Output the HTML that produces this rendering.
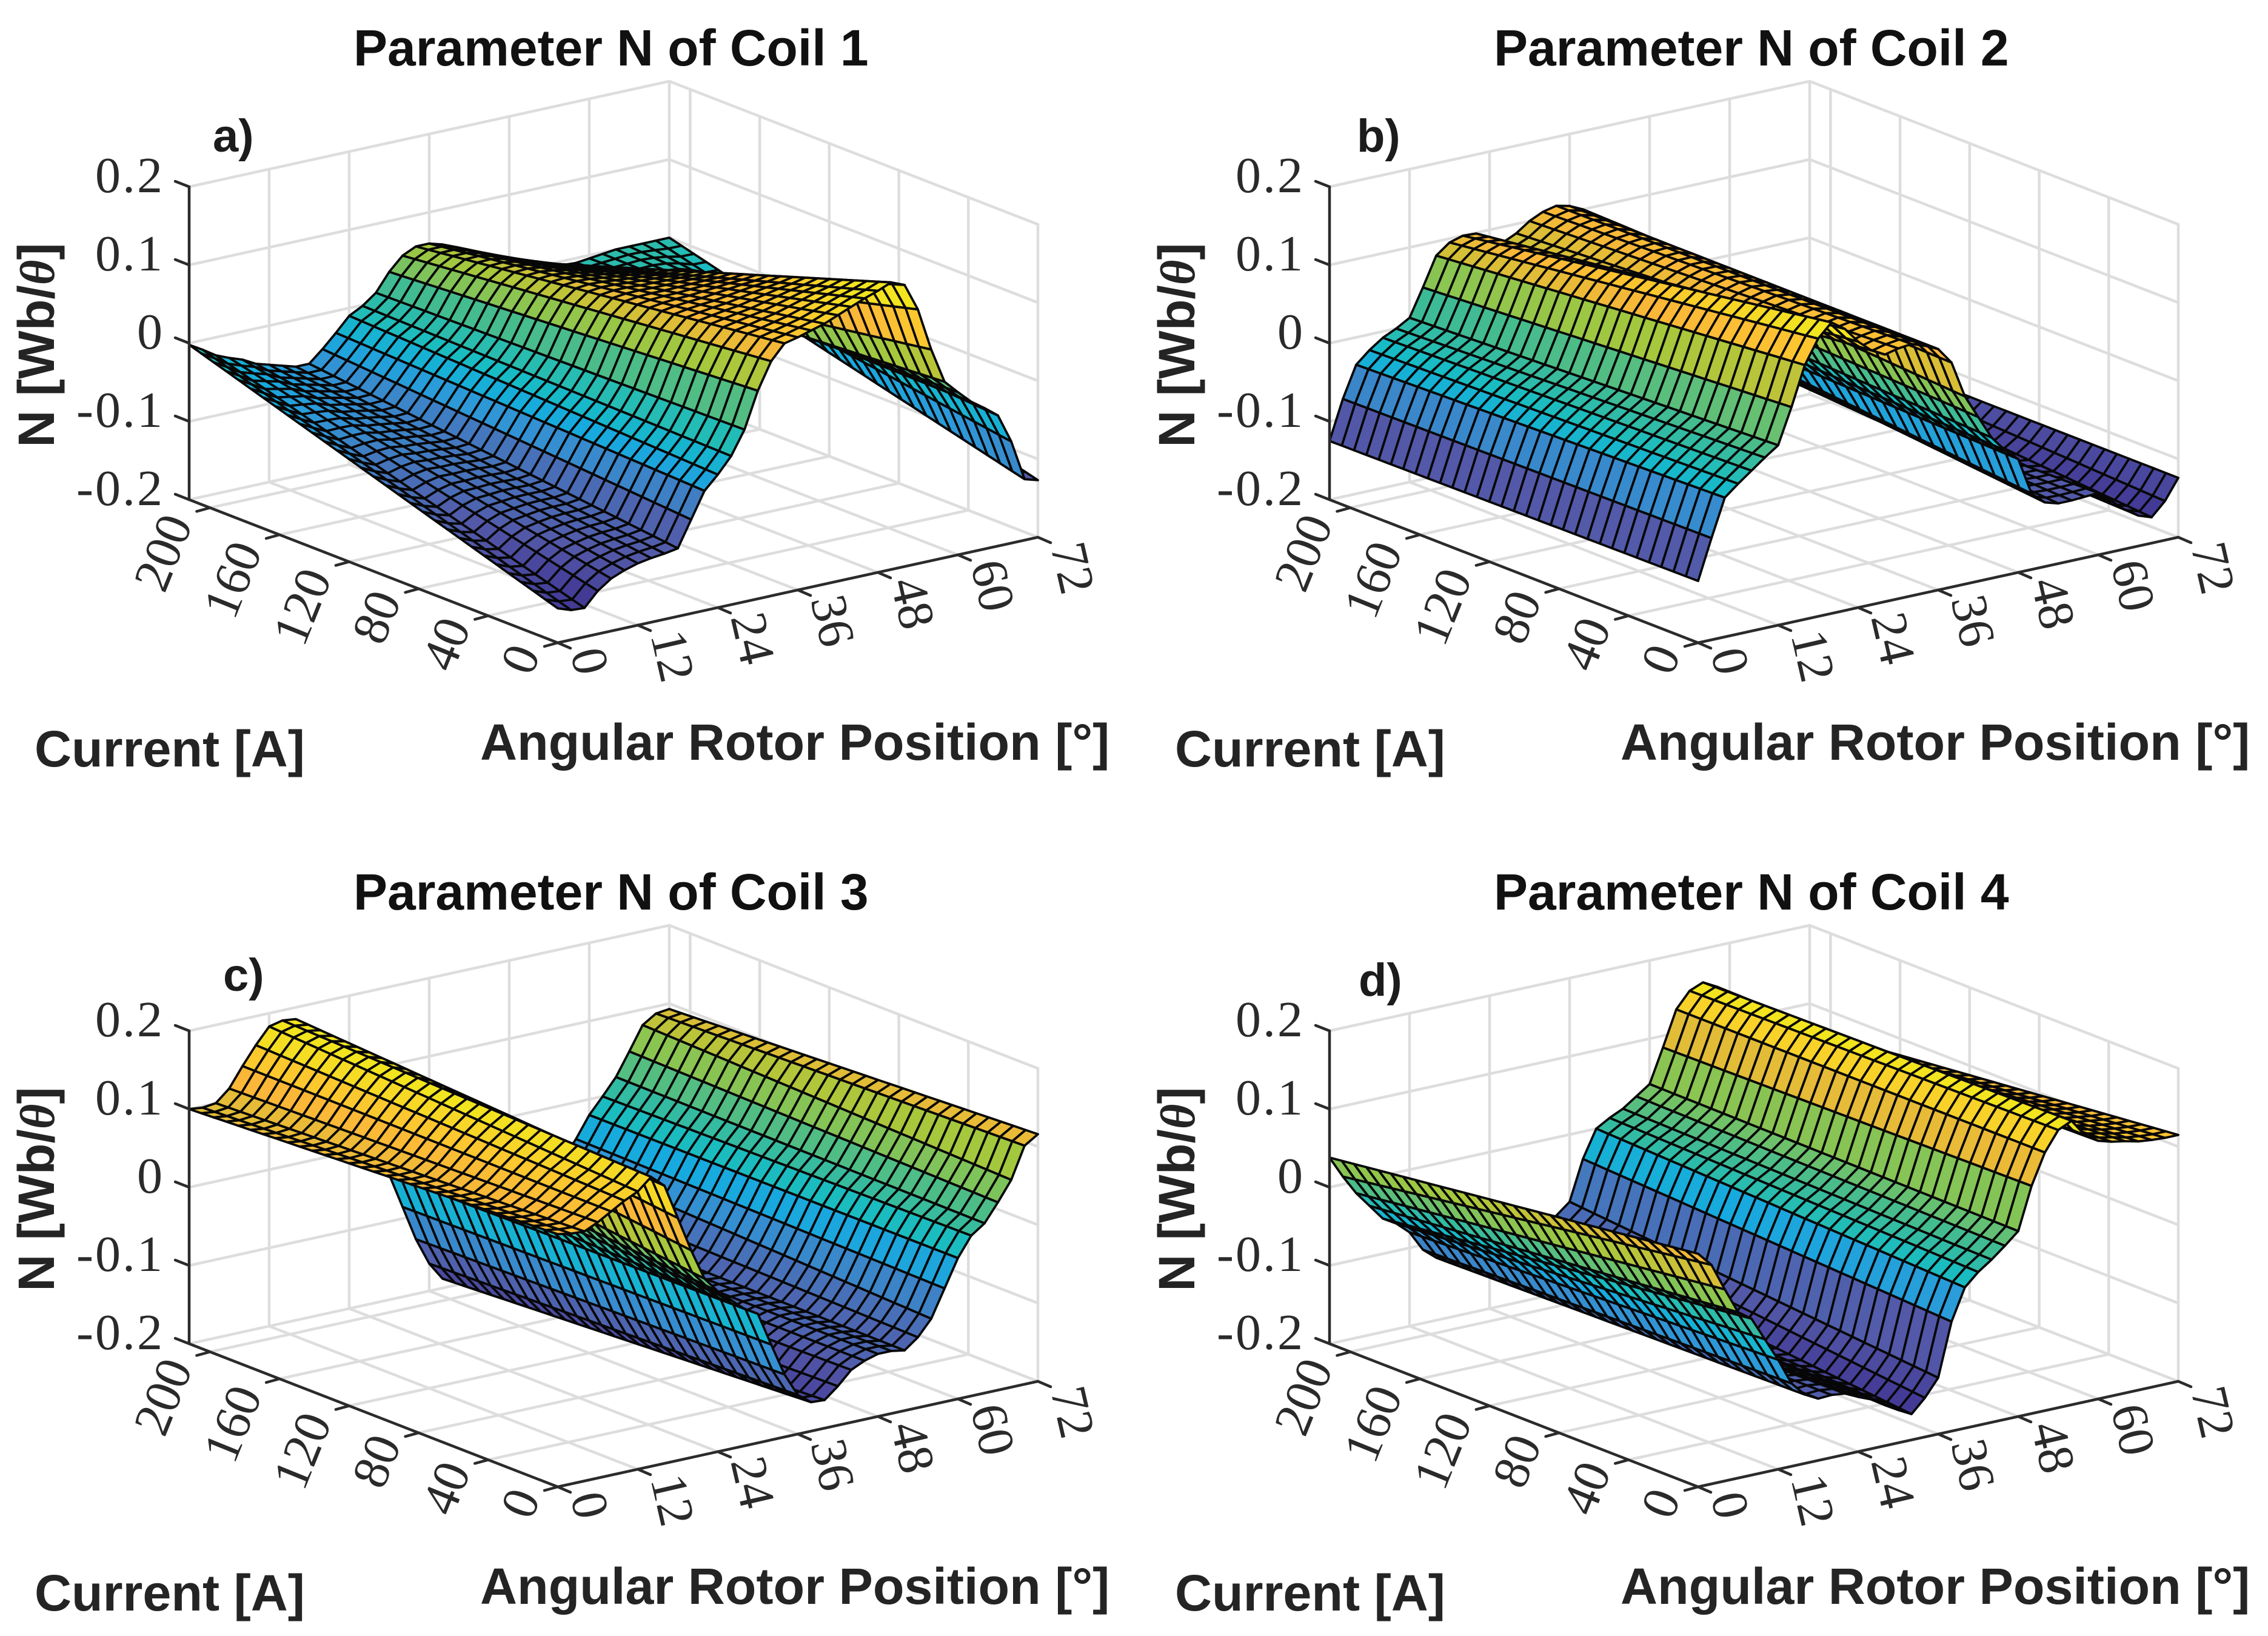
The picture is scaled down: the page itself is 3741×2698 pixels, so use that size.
<!DOCTYPE html>
<html lang="en">
<head>
<meta charset="utf-8">
<title>Parameter N of Coils 1 to 4</title>
<style>
html,body{margin:0;padding:0;background:#fff;}
svg{display:block;}
.title{font:bold 84px "Liberation Sans",sans-serif;fill:#111;}
.axis-label{font:bold 84.5px "Liberation Sans",sans-serif;fill:#242424;}
.panel-tag{font:bold 76px "Liberation Sans",sans-serif;fill:#1c1c1c;}
.tick{font:84px "Liberation Serif",serif;fill:#2a2a2a;}
.z-tick-text{letter-spacing:3px;}
.theta{font:italic bold 80px "Liberation Serif",serif;}
</style>
</head>
<body>
<svg id="figure" xmlns="http://www.w3.org/2000/svg" width="3741" height="2698" viewBox="0 0 3741 2698">
  <rect width="3741" height="2698" fill="#fff"/>

  <g id="panel-0" transform="translate(0,0)">
    <g class="plot"></g>
    <text class="title" x="583" y="108">Parameter N of Coil 1</text>
    <text class="panel-tag" x="351" y="250">a)</text>
    <text class="axis-label" transform="translate(89,569) rotate(-90)" text-anchor="middle">N [Wb/<tspan class="theta">θ</tspan>]</text>
    <text class="axis-label" x="57" y="1264">Current [A]</text>
    <text class="axis-label" x="792" y="1253">Angular Rotor Position [°]</text>
  </g>

  <g id="panel-1" transform="translate(1881,0)">
    <g class="plot"></g>
    <text class="title" x="583" y="108">Parameter N of Coil 2</text>
    <text class="panel-tag" x="357" y="250">b)</text>
    <text class="axis-label" transform="translate(89,569) rotate(-90)" text-anchor="middle">N [Wb/<tspan class="theta">θ</tspan>]</text>
    <text class="axis-label" x="57" y="1264">Current [A]</text>
    <text class="axis-label" x="792" y="1253">Angular Rotor Position [°]</text>
  </g>

  <g id="panel-2" transform="translate(0,1392)">
    <g class="plot"></g>
    <text class="title" x="583" y="108">Parameter N of Coil 3</text>
    <text class="panel-tag" x="368" y="242">c)</text>
    <text class="axis-label" transform="translate(89,569) rotate(-90)" text-anchor="middle">N [Wb/<tspan class="theta">θ</tspan>]</text>
    <text class="axis-label" x="57" y="1264">Current [A]</text>
    <text class="axis-label" x="792" y="1253">Angular Rotor Position [°]</text>
  </g>

  <g id="panel-3" transform="translate(1881,1392)">
    <g class="plot"></g>
    <text class="title" x="583" y="108">Parameter N of Coil 4</text>
    <text class="panel-tag" x="360" y="250">d)</text>
    <text class="axis-label" transform="translate(89,569) rotate(-90)" text-anchor="middle">N [Wb/<tspan class="theta">θ</tspan>]</text>
    <text class="axis-label" x="57" y="1264">Current [A]</text>
    <text class="axis-label" x="792" y="1253">Angular Rotor Position [°]</text>
  </g>
</svg>

<script>
// Tick labels and axis categories
const angleTicks = [0, 12, 24, 36, 48, 60, 72];
const currentTicks = [0, 40, 80, 120, 160, 200];
const zTicks = [-0.2, -0.1, 0, 0.1, 0.2];
const zTickLabels = ["-0.2", "-0.1", "0", "0.1", "0.2"];

// Sample positions along the angular axis (degrees)
const angleSamples = [0, 2, 4, 6, 8, 10, 12, 14, 16, 18, 20, 22, 24, 26, 28, 30, 32, 34, 36, 38, 40, 42, 44, 46, 48, 50, 52, 54, 56, 58, 60, 62, 64, 66, 68, 70, 72];
// Current at which each profile row was read (A).
// Only these two rows are read from the picture; mesh cells between them are
// drawn by linear interpolation in drawSurface.
const profileCurrents = [0, 212];

// Coil 1: N values along the angle axis
const coil1AtZeroCurrent = [-0.156, -0.162, -0.163, -0.145, -0.133, -0.126, -0.121, -0.118, -0.116, -0.113, -0.08, -0.047, -0.03, -0.01, 0.02, 0.066, 0.1, 0.119, 0.123, 0.128, 0.133, 0.14, 0.147, 0.154, 0.16, 0.167, 0.16, 0.125, 0.07, 0.025, 0.008, -0.008, -0.02, -0.033, -0.07, -0.122, -0.127];
const coil1AtMaxCurrent = [-0.002, -0.012, -0.023, -0.03, -0.036, -0.045, -0.05, -0.055, -0.06, -0.06, -0.045, -0.028, -0.01, -0.001, 0.012, 0.035, 0.052, 0.06, 0.06, 0.055, 0.048, 0.04, 0.032, 0.024, 0.016, 0.01, 0.005, 0, -0.005, -0.006, -0.004, -0.002, 0, 0, 0, 0, 0];

// Coil 2
const coil2AtZeroCurrent = [-0.121, -0.07, -0.022, -0.008, 0.005, 0.018, 0.03, 0.075, 0.125, 0.155, 0.172, 0.16, 0.14, 0.125, 0.116, 0.12, 0.122, 0.116, 0.108, 0.087, 0.04, 0.01, -0.02, -0.04, -0.055, -0.103, -0.118, -0.123, -0.123, -0.122, -0.121, -0.135, -0.15, -0.161, -0.167, -0.15, -0.124];
const coil2AtMaxCurrent = [-0.125, -0.075, -0.035, -0.02, -0.008, 0, 0.01, 0.045, 0.082, 0.095, 0.1, 0.099, 0.09, 0.08, 0.088, 0.1, 0.108, 0.112, 0.108, 0.1, 0.07, 0.03, 0, -0.02, -0.04, -0.055, -0.07, -0.09, -0.105, -0.12, -0.128, -0.132, -0.135, -0.135, -0.13, -0.127, -0.124];

// Coil 3
const coil3AtZeroCurrent = [0.123, 0.12, 0.119, 0.127, 0.137, 0.147, 0.155, 0.17, 0.155, 0.11, 0.065, 0.025, 0.005, -0.01, -0.025, -0.035, -0.078, -0.12, -0.15, -0.163, -0.164, -0.15, -0.133, -0.125, -0.12, -0.12, -0.123, -0.11, -0.09, -0.055, -0.02, 0.005, 0.017, 0.04, 0.065, 0.105, 0.116];
const coil3AtMaxCurrent = [0.1, 0.098, 0.1, 0.115, 0.14, 0.163, 0.183, 0.187, 0.185, 0.16, 0.12, 0.08, 0.05, 0.02, -0.01, -0.04, -0.085, -0.13, -0.165, -0.188, -0.185, -0.16, -0.14, -0.125, -0.12, -0.12, -0.12, -0.1, -0.07, -0.047, -0.02, 0, 0.021, 0.05, 0.08, 0.091, 0.093];

// Coil 4
const coil4AtZeroCurrent = [0.098, 0.08, 0.045, 0.012, 0, -0.03, -0.06, -0.094, -0.112, -0.121, -0.12, -0.122, -0.13, -0.137, -0.148, -0.158, -0.167, -0.15, -0.128, -0.06, -0.02, -0.004, 0.008, 0.022, 0.037, 0.091, 0.13, 0.155, 0.163, 0.141, 0.13, 0.125, 0.122, 0.118, 0.116, 0.115, 0.115];
const coil4AtMaxCurrent = [0.038, 0.01, -0.015, -0.035, -0.055, -0.065, -0.08, -0.106, -0.12, -0.12, -0.12, -0.125, -0.13, -0.135, -0.135, -0.13, -0.12, -0.1, -0.086, -0.035, 0, 0.01, 0.018, 0.03, 0.042, 0.085, 0.13, 0.15, 0.157, 0.148, 0.12, 0.1, 0.09, 0.085, 0.08, 0.072, 0.067];

const coilProfiles = [
  [coil1AtZeroCurrent, coil1AtMaxCurrent],
  [coil2AtZeroCurrent, coil2AtMaxCurrent],
  [coil3AtZeroCurrent, coil3AtMaxCurrent],
  [coil4AtZeroCurrent, coil4AtMaxCurrent]
];

// Axis geometry (projection of the 3-D box, panel-local pixels)
const SVG_NS = "http://www.w3.org/2000/svg";
const ANGLE_MAX = 72, CURRENT_MAX = 212, Z_MIN = -0.2, Z_MAX = 0.2;
const FRONT = [920, 1060], LEFT = [312, 824], RIGHT = [1712, 886], Z_PIXELS = 516;
const CURRENT_CELLS = 30;

function project(angle, current, z) {
  const ta = angle / ANGLE_MAX, tc = current / CURRENT_MAX, tz = (z - Z_MIN) / (Z_MAX - Z_MIN);
  return [
    FRONT[0] + ta * (RIGHT[0] - FRONT[0]) + tc * (LEFT[0] - FRONT[0]),
    FRONT[1] + ta * (RIGHT[1] - FRONT[1]) + tc * (LEFT[1] - FRONT[1]) - tz * Z_PIXELS
  ];
}

const COLOR_STOPS = [
  [0, 67, 58, 150], [0.13, 83, 89, 168], [0.24, 68, 120, 190], [0.31, 47, 151, 215],
  [0.37, 23, 170, 222], [0.44, 23, 188, 196], [0.53, 63, 187, 148], [0.61, 127, 195, 91],
  [0.68, 165, 200, 60], [0.74, 211, 191, 54], [0.81, 251, 183, 56], [0.87, 252, 199, 47],
  [0.95, 242, 228, 31], [1, 242, 228, 31]
];
function surfaceColor(t) {
  t = Math.max(0, Math.min(1, t));
  for (let i = 1; i < COLOR_STOPS.length; i++) {
    const p = COLOR_STOPS[i - 1], q = COLOR_STOPS[i];
    if (t <= q[0]) {
      const f = (t - p[0]) / (q[0] - p[0]);
      return "rgb(" + [1, 2, 3].map(k => Math.round(p[k] + f * (q[k] - p[k]))).join(",") + ")";
    }
  }
  return "rgb(242,228,31)";
}

function line(parent, a, b, stroke, width, name) {
  const el = document.createElementNS(SVG_NS, "line");
  el.setAttribute("x1", a[0]);
  el.setAttribute("y1", a[1]);
  el.setAttribute("x2", b[0]);
  el.setAttribute("y2", b[1]);
  el.setAttribute("stroke", stroke);
  el.setAttribute("stroke-width", width);
  el.setAttribute("stroke-linecap", "round");
  
  
  parent.appendChild(el);
  return el;
}

function tickText(parent, str, x, y, anchor, rotation, name, extraClass) {
  const el = document.createElementNS(SVG_NS, "text");
  el.setAttribute("class", "tick" + (extraClass ? " " + extraClass : ""));
  el.setAttribute("text-anchor", anchor);
  el.setAttribute("transform", "translate(" + x + "," + y + ") rotate(" + rotation + ")");
  el.textContent = str;
  
  
  parent.appendChild(el);
}

function drawGrid(plot) {
  const GRID = "#dddddd", GW = 4.5, name = "grid-line";
  const zLow = Z_MIN, zHigh = Z_MAX;
  zTicks.forEach(z => {
    line(plot, project(0, CURRENT_MAX, z), project(ANGLE_MAX, CURRENT_MAX, z), GRID, GW, name);
    line(plot, project(ANGLE_MAX, CURRENT_MAX, z), project(ANGLE_MAX, 0, z), GRID, GW, name);
  });
  angleTicks.forEach(a => {
    line(plot, project(a, CURRENT_MAX, zLow), project(a, CURRENT_MAX, zHigh), GRID, GW, name);
    line(plot, project(a, 0, zLow), project(a, CURRENT_MAX, zLow), GRID, GW, name);
  });
  currentTicks.forEach(c => {
    line(plot, project(ANGLE_MAX, c, zLow), project(ANGLE_MAX, c, zHigh), GRID, GW, name);
    line(plot, project(0, c, zLow), project(ANGLE_MAX, c, zLow), GRID, GW, name);
  });
}

function drawSurface(plot, profiles) {
  const all = profiles[0].concat(profiles[1]);
  const zMin = Math.min.apply(null, all), zMax = Math.max.apply(null, all);
  const height = (ai, current) => {
    const w = current / profileCurrents[1];
    return profiles[0][ai] + w * (profiles[1][ai] - profiles[0][ai]);
  };
  const group = document.createElementNS(SVG_NS, "g");
  
  
  for (let ai = angleSamples.length - 2; ai >= 0; ai--) {
    for (let cj = CURRENT_CELLS - 1; cj >= 0; cj--) {
      const c0 = cj * CURRENT_MAX / CURRENT_CELLS, c1 = (cj + 1) * CURRENT_MAX / CURRENT_CELLS;
      const a0 = angleSamples[ai], a1 = angleSamples[ai + 1];
      const corners = [
        project(a0, c0, height(ai, c0)), project(a1, c0, height(ai + 1, c0)),
        project(a1, c1, height(ai + 1, c1)), project(a0, c1, height(ai, c1))
      ];
      const cell = document.createElementNS(SVG_NS, "polygon");
      cell.setAttribute("points", corners.map(p => p[0].toFixed(1) + "," + p[1].toFixed(1)).join(" "));
      cell.setAttribute("fill", surfaceColor((height(ai, c0) - zMin) / (zMax - zMin)));
      
      
      group.appendChild(cell);
    }
  }
  group.setAttribute("stroke", "#070707");
  group.setAttribute("stroke-width", "3.8");
  group.setAttribute("stroke-linejoin", "round");
  plot.appendChild(group);
}

function drawAxes(plot) {
  const INK = "#2b2b2b", AW = 4.5;
  line(plot, project(0, CURRENT_MAX, Z_MIN), project(0, CURRENT_MAX, Z_MAX), INK, AW, "z-axis-line");
  line(plot, project(0, CURRENT_MAX, Z_MIN), project(0, 0, Z_MIN), INK, AW, "current-axis-line");
  line(plot, project(0, 0, Z_MIN), project(ANGLE_MAX, 0, Z_MIN), INK, AW, "angle-axis-line");

  zTicks.forEach((z, i) => {
    const p = project(0, CURRENT_MAX, z);
    line(plot, p, [p[0] - 23, p[1] - 9], INK, AW, "z-tick");
    tickText(plot, zTickLabels[i], p[0] - 41, p[1] + 9, "end", 0, "z-tick-label", "z-tick-text");
  });
  currentTicks.forEach(c => {
    const p = project(0, c, Z_MIN);
    line(plot, p, [p[0] - 22, p[1] + 6], INK, AW, "current-tick");
    const extraDrop = c >= 100 ? 8 : 0;
    tickText(plot, String(c), p[0] - 28, p[1] + 18 + extraDrop, "end", -68, "current-tick-label");
  });
  angleTicks.forEach(a => {
    const p = project(a, 0, Z_MIN);
    line(plot, p, [p[0] + 21, p[1] + 9], INK, AW, "angle-tick");
    tickText(plot, String(a), p[0] + 21, p[1] + 16, "start", 77, "angle-tick-label");
  });
}

coilProfiles.forEach((profiles, index) => {
  const plot = document.querySelector("#panel-" + index + " .plot");
  drawGrid(plot);
  drawSurface(plot, profiles);
  drawAxes(plot);
});
</script>
</body>
</html>
